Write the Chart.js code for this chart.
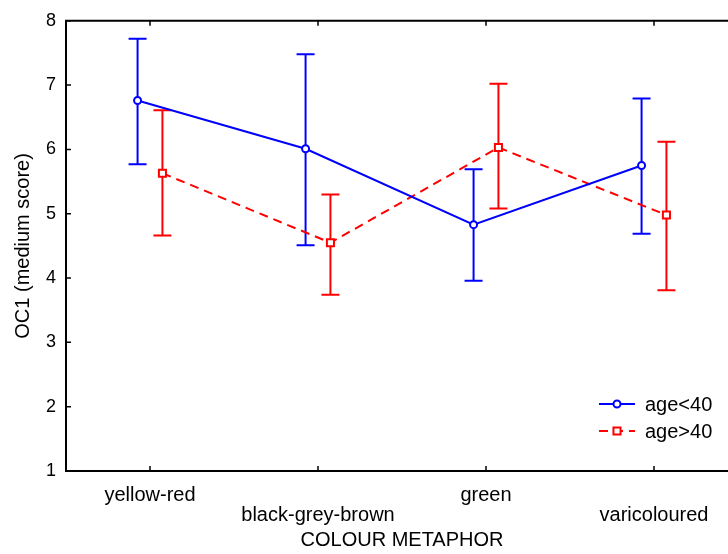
<!DOCTYPE html>
<html>
<head>
<meta charset="utf-8">
<script src="https://cdn.jsdelivr.net/npm/chart.js@4.4.0/dist/chart.umd.min.js"></script>
<style>
  html, body { margin: 0; padding: 0; background: #fff; overflow: hidden; }
</style>
</head>
<body>
<canvas id="myChart" width="745" height="554" style="width:745px;height:554px"></canvas>
<script>
const categories = ['yellow-red', 'black-grey-brown', 'green', 'varicoloured'];

// age<40
const youngMean = [6.76, 6.01, 4.83, 5.75];
const youngLow = [5.77, 4.51, 3.96, 4.69];
const youngHigh = [7.72, 7.48, 5.69, 6.79];

// age>40
const oldMean = [5.63, 4.55, 6.03, 4.98];
const oldLow = [4.66, 3.74, 5.08, 3.81];
const oldHigh = [6.61, 5.30, 7.02, 6.12];

const yTicks = [1, 2, 3, 4, 5, 6, 7, 8];

const FONT = "'Liberation Sans', Arial, sans-serif";
const dodge = 0.074;

function points(means, shift) {
  return means.map((m, i) => ({ x: i + 1 + shift, y: m }));
}

// draws the error bars from the low/high arrays
const errorBars = {
  id: 'errorBars',
  beforeDatasetsDraw(chart) {
    const ctx = chart.ctx;
    const xs = chart.scales.x, ys = chart.scales.y;
    chart.data.datasets.forEach(ds => {
      ctx.save();
      ctx.strokeStyle = ds.borderColor;
      ctx.lineWidth = 2;
      ds.data.forEach((p, i) => {
        const x = xs.getPixelForValue(p.x);
        const top = ys.getPixelForValue(ds.high[i]);
        const bot = ys.getPixelForValue(ds.low[i]);
        ctx.beginPath();
        ctx.moveTo(x, top); ctx.lineTo(x, bot);
        ctx.moveTo(x - 9, top); ctx.lineTo(x + 9, top);
        ctx.moveTo(x - 9, bot); ctx.lineTo(x + 9, bot);
        ctx.stroke();
      });
      ctx.restore();
    });
  }
};

// frame top line, inward ticks and the legend box
const frame = {
  id: 'frame',
  afterDraw(chart) {
    const ctx = chart.ctx;
    const a = chart.chartArea;
    const xs = chart.scales.x, ys = chart.scales.y;
    ctx.save();
    ctx.strokeStyle = '#000';
    ctx.lineWidth = 2;
    ctx.beginPath();
    ctx.moveTo(a.left - 1, a.top); ctx.lineTo(a.right, a.top);
    ctx.stroke();
    ctx.lineWidth = 1.5;
    ctx.beginPath();
    yTicks.forEach(v => {
      const y = ys.getPixelForValue(v);
      ctx.moveTo(a.left, y); ctx.lineTo(a.left + 5, y);
    });
    categories.forEach((c, i) => {
      const x = xs.getPixelForValue(i + 1);
      ctx.moveTo(x, a.bottom); ctx.lineTo(x, a.bottom - 5);
      ctx.moveTo(x, a.top); ctx.lineTo(x, a.top + 5);
    });
    ctx.stroke();

    // legend
    chart.data.datasets.forEach((ds, k) => {
      const y = 404 + k * 27;
      ctx.strokeStyle = ds.borderColor;
      ctx.lineWidth = 2;
      ctx.setLineDash(ds.borderDash || []);
      ctx.beginPath();
      ctx.moveTo(599, y); ctx.lineTo(635, y);
      ctx.stroke();
      ctx.setLineDash([]);
      ctx.fillStyle = '#fff';
      ctx.strokeStyle = ds.borderColor;
      ctx.lineWidth = 2;
      ctx.beginPath();
      if (ds.pointStyle === 'rect') {
        const s = ds.pointRadius / Math.SQRT2;
        ctx.rect(617 - s, y - s, 2 * s, 2 * s);
      } else {
        ctx.arc(617, y, ds.pointRadius, 0, Math.PI * 2);
      }
      ctx.fill(); ctx.stroke();
      ctx.fillStyle = '#000';
      ctx.font = '20px ' + FONT;
      ctx.textBaseline = 'middle';
      ctx.textAlign = 'left';
      ctx.fillText(ds.label, 645, y + 1);
    });
    ctx.restore();
  }
};

const data = {
  datasets: [{
    label: 'age<40',
    data: points(youngMean, -dodge),
    low: youngLow,
    high: youngHigh,
    borderColor: '#0000ff',
    backgroundColor: '#ffffff',
    borderWidth: 2,
    pointStyle: 'circle',
    pointRadius: 3.5,
    pointBorderWidth: 2
  }, {
    label: 'age>40',
    data: points(oldMean, dodge),
    low: oldLow,
    high: oldHigh,
    borderColor: '#ff0000',
    backgroundColor: '#ffffff',
    borderWidth: 2,
    borderDash: [9, 6],
    pointStyle: 'rect',
    pointRadius: 5,
    pointBorderWidth: 2
  }]
};

const config = {
  type: 'line',
  data: data,
  options: {
    responsive: false,
    animation: false,
    layout: { padding: { top: 20, right: 0, left: 0, bottom: 0 } },
    plugins: {
      legend: { display: false },
      tooltip: { enabled: false }
    },
    elements: { line: { tension: 0 } },
    scales: {
      x: {
        type: 'linear',
        min: 0.5,
        max: 4.5,
        afterBuildTicks: s => { s.ticks = categories.map((c, i) => ({ value: i + 1 })); },
        afterFit: s => { s.height = 83; },
        grid: { display: false, drawTicks: false },
        border: { display: true, color: '#000', width: 2 },
        ticks: {
          color: '#000',
          padding: 14,
          maxRotation: 0,
          autoSkip: false,
          font: { family: FONT, size: 20, lineHeight: 1.0 },
          callback: v => {
            const i = Math.round(v) - 1;
            return i % 2 ? ['', categories[i]] : [categories[i], ''];
          }
        },
        title: {
          display: true,
          text: 'COLOUR METAPHOR',
          color: '#000',
          font: { family: FONT, size: 20 },
          padding: { top: 0, bottom: 2 }
        }
      },
      y: {
        type: 'linear',
        min: 1,
        max: 8,
        afterBuildTicks: s => { s.ticks = yTicks.map(v => ({ value: v })); },
        afterFit: s => { s.width = 66; },
        grid: { display: false, drawTicks: false },
        border: { display: true, color: '#000', width: 2 },
        ticks: {
          color: '#000',
          padding: 10,
          font: { family: FONT, size: 18 }
        },
        title: {
          display: true,
          text: 'OC1 (medium score)',
          color: '#000',
          font: { family: FONT, size: 20 },
          padding: { top: 11, bottom: 0 }
        }
      }
    }
  },
  plugins: [errorBars, frame]
};

const myChart = new Chart(document.getElementById('myChart'), config);
</script>
</body>
</html>
